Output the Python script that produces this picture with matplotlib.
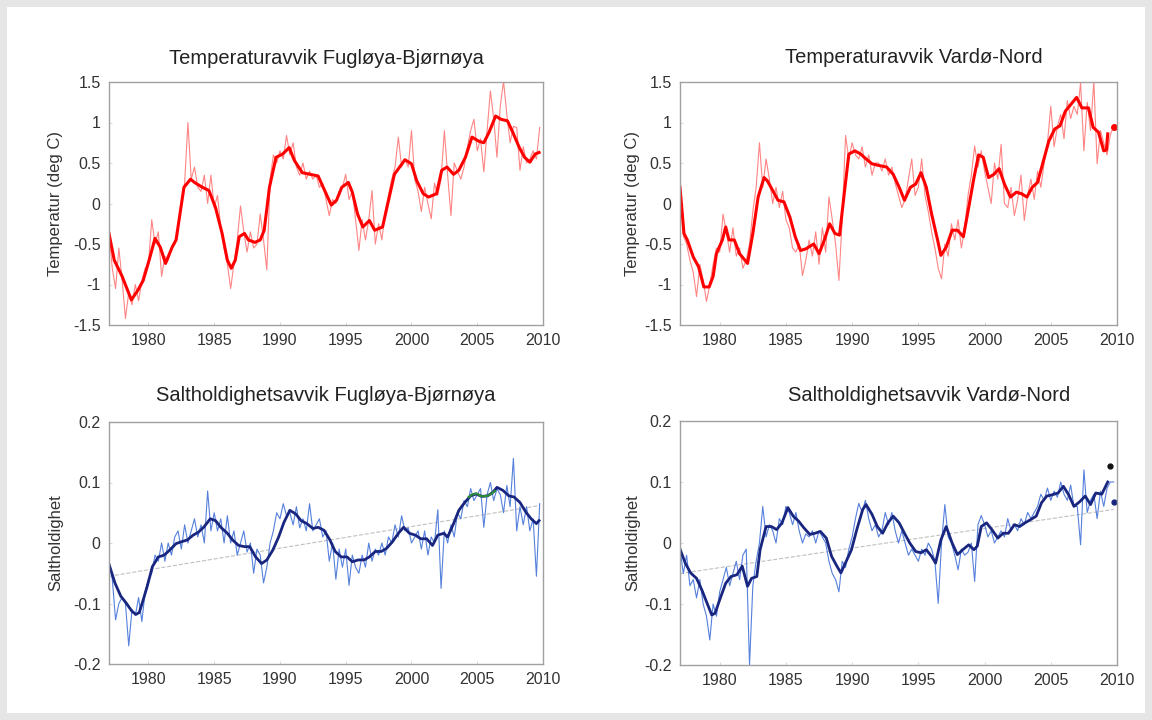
import numpy as np
import matplotlib
matplotlib.use('Agg')
import matplotlib.pyplot as plt
from matplotlib.patches import Rectangle

plt.rcParams['font.family'] = ['Liberation Sans', 'DejaVu Sans']

# ---------------- data ----------------
# monthly-ish raw series, 4 values per year from 1977.0 to 2009.75
raw_years = np.arange(1977, 2010, 0.25)

temp_fb_raw = [
    -0.35, -0.8, -1.05, -0.55,
    -0.95, -1.42, -1.1, -1.25,
    -1.0, -1.2, -0.95, -0.8,
    -0.75, -0.2, -0.5, -0.35,
    -0.9, -0.65, -0.7, -0.55,
    -0.5, -0.3, 0.0, 0.25,
    1.0, 0.3, 0.45, 0.2,
    0.15, 0.35, 0.0, 0.35,
    -0.05, 0.1, -0.3, -0.55,
    -0.75, -1.05, -0.75, -0.45,
    -0.03, -0.35, -0.6, -0.35,
    -0.55, -0.5, -0.13, -0.45,
    -0.82, 0.3, 0.6, 0.5,
    0.65, 0.55, 0.84, 0.6,
    0.75, 0.45, 0.35, 0.5,
    0.3, 0.4, 0.3, 0.35,
    0.2, 0.25, 0.05, -0.15,
    0.05, 0.0, 0.15, 0.2,
    0.36, 0.05, 0.15, -0.2,
    -0.58, -0.2, -0.45, -0.2,
    0.16, -0.5, -0.25, -0.45,
    -0.1, 0.1, 0.3, 0.45,
    0.82, 0.45, 0.55, 0.45,
    0.9, 0.3, 0.15, -0.1,
    0.2, 0.0, -0.19, 0.25,
    0.1, 0.3, 0.9, 0.35,
    -0.15, 0.5, 0.4, 0.3,
    0.45, 0.7, 0.9, 1.04,
    0.65, 0.8, 0.39, 0.9,
    1.39, 1.05, 0.57, 1.2,
    1.51, 1.1, 0.75, 0.95,
    0.94, 0.41, 0.7, 0.5,
    0.55, 0.65, 0.55, 0.94,
]

temp_vn_raw = [
    0.2, -0.4, -0.5, -0.7,
    -0.85, -1.15, -0.75, -0.95,
    -1.21, -1.0, -0.75, -0.55,
    -0.6, -0.13, -0.35, -0.6,
    -0.3, -0.65, -0.55, -0.8,
    -0.7, -0.5, -0.1, 0.2,
    0.75, 0.2, 0.55, 0.3,
    0.0, 0.2, -0.05, 0.15,
    -0.2, -0.3, -0.55, -0.6,
    -0.5, -0.89, -0.7, -0.45,
    -0.65, -0.35, -0.75, -0.3,
    -0.6, 0.08, -0.2, -0.5,
    -0.95, -0.2, 0.84, 0.55,
    0.75, 0.6, 0.55, 0.7,
    0.45, 0.6, 0.35, 0.5,
    0.5, 0.4, 0.55, 0.35,
    0.45, 0.25, 0.1, -0.05,
    0.05, 0.3, 0.55, 0.1,
    0.2, 0.55, 0.1, -0.1,
    -0.35, -0.55, -0.8, -0.93,
    -0.5, -0.65, -0.25, -0.45,
    -0.2, -0.55, -0.3, 0.1,
    0.35, 0.71, 0.45, 0.65,
    0.4, 0.2, 0.0, 0.5,
    0.3, 0.73, 0.0, -0.05,
    0.2, -0.15, 0.05, 0.35,
    -0.21, 0.1, 0.3, 0.05,
    0.4, 0.2, 0.5, 0.75,
    1.2, 0.7, 0.95, 1.1,
    0.8, 1.27, 1.05, 1.2,
    1.1, 1.49, 0.65, 1.25,
    0.9, 1.51, 0.49, 0.9,
    0.75, 0.6, 0.85, 0.95,
]

salt_fb_raw = [
    -0.03, -0.06, -0.127, -0.1,
    -0.09, -0.1, -0.17, -0.11,
    -0.12, -0.09, -0.13, -0.08,
    -0.06, -0.05, -0.02, -0.03,
    0.0, -0.03, 0.0, -0.02,
    0.01, 0.02, -0.01, 0.03,
    0.0, 0.02, 0.04, 0.01,
    0.03, 0.0, 0.086, 0.02,
    0.05, 0.02, 0.04, 0.0,
    0.045, 0.0, 0.02, -0.02,
    0.0, 0.02, -0.015, 0.0,
    -0.05, -0.01, -0.02, -0.066,
    -0.04, 0.0, 0.02, 0.05,
    0.04, 0.065, 0.045, 0.05,
    0.03, 0.06, 0.025, 0.04,
    0.02, 0.065, 0.02, 0.03,
    0.04, 0.01, 0.02, -0.03,
    0.0, -0.06, -0.01, -0.04,
    -0.01, -0.07, -0.02, -0.04,
    -0.05, -0.02, -0.04, 0.0,
    -0.03, -0.01, -0.02, 0.0,
    -0.02, 0.01, 0.0, 0.03,
    0.01, 0.045, 0.02, 0.025,
    0.0, 0.01, 0.02, -0.01,
    0.02, -0.02, 0.01, 0.0,
    0.055, -0.075, 0.02, 0.0,
    0.03, 0.01, 0.05, 0.04,
    0.07, 0.06, 0.09, 0.07,
    0.08, 0.09, 0.026, 0.08,
    0.1, 0.07, 0.09, 0.08,
    0.05, 0.095, 0.06, 0.14,
    0.02, 0.06, 0.03, 0.06,
    0.02, 0.04, -0.055, 0.065,
]

salt_vn_raw = [
    -0.01, -0.05, -0.02, -0.07,
    -0.06, -0.09, -0.06, -0.1,
    -0.12, -0.159, -0.1, -0.12,
    -0.08, -0.06, -0.04, -0.07,
    -0.05, -0.03, -0.06, -0.02,
    -0.01, -0.2, -0.07, -0.03,
    0.0, 0.06, 0.01, 0.03,
    0.02, 0.0, 0.04, 0.03,
    0.06, 0.05, 0.03, 0.05,
    0.02, 0.0, 0.015, 0.01,
    0.02, 0.0, 0.02, 0.01,
    0.0, -0.03, -0.05, -0.06,
    -0.08, -0.03, -0.04, -0.01,
    0.01, 0.04, 0.065, 0.05,
    0.07, 0.04, 0.02, 0.03,
    0.01, 0.02, 0.05, 0.03,
    0.05, 0.02, 0.0, 0.02,
    0.0, -0.02, -0.01, -0.02,
    -0.03, -0.01, -0.02, 0.0,
    -0.01, -0.03, -0.099, 0.0,
    0.063, 0.01, 0.0, -0.02,
    -0.044, -0.01, -0.02, -0.015,
    0.0, -0.063, 0.03, 0.045,
    0.03, 0.01, 0.02, 0.0,
    0.01, 0.02, 0.01, 0.04,
    0.02, 0.03, 0.02, 0.04,
    0.03, 0.05, 0.04, 0.05,
    0.06, 0.08, 0.07, 0.09,
    0.07, 0.085, 0.075, 0.1,
    0.08, 0.07, 0.095, 0.06,
    0.06, -0.003, 0.12, 0.05,
    0.07, 0.08, 0.04, 0.085,
    0.06, 0.09, 0.1, 0.1,
]

# smoothed series (year, value)
temp_fb_sm_x = [1977.0, 1977.4, 1978.0, 1978.7, 1979.2, 1979.6, 1980.05, 1980.5, 1980.9, 1981.3,
                1981.8, 1982.1, 1982.7, 1983.2, 1983.5, 1984.1, 1984.6, 1985.1, 1985.6, 1986.0,
                1986.3, 1986.6, 1986.9, 1987.3, 1987.6, 1988.1, 1988.5, 1988.8, 1989.2, 1989.7,
                1990.2, 1990.7, 1991.1, 1991.7, 1992.3, 1992.9, 1993.4, 1993.9, 1994.3, 1994.7,
                1995.2, 1995.5, 1995.9, 1996.3, 1996.8, 1997.2, 1997.8, 1998.2, 1998.7, 1999.1,
                1999.5, 2000.0, 2000.4, 2000.9, 2001.3, 2001.9, 2002.3, 2002.7, 2003.2, 2003.6,
                2004.1, 2004.6, 2005.1, 2005.5, 2005.9, 2006.4, 2006.8, 2007.3, 2007.7, 2008.2,
                2008.6, 2009.0, 2009.4, 2009.7]
temp_fb_sm = [-0.37, -0.70, -0.90, -1.19, -1.07, -0.95, -0.70, -0.43, -0.54, -0.74,
              -0.54, -0.45, 0.20, 0.30, 0.26, 0.20, 0.16, -0.05, -0.37, -0.70,
              -0.80, -0.70, -0.41, -0.37, -0.45, -0.48, -0.45, -0.33, 0.20, 0.57,
              0.61, 0.69, 0.53, 0.38, 0.36, 0.34, 0.16, -0.02, 0.04, 0.20,
              0.26, 0.14, -0.13, -0.29, -0.21, -0.33, -0.29, 0.00, 0.36, 0.45,
              0.54, 0.49, 0.28, 0.12, 0.08, 0.12, 0.41, 0.45, 0.36, 0.41,
              0.57, 0.82, 0.77, 0.75, 0.88, 1.08, 1.04, 1.02, 0.88, 0.69,
              0.57, 0.51, 0.61, 0.63]

temp_vn_sm_x = [1977.0, 1977.3, 1977.55, 1978.0, 1978.4, 1978.8, 1979.2, 1979.5, 1979.75, 1980.2,
                1980.45, 1980.7, 1981.1, 1981.5, 1982.1, 1982.5, 1982.9, 1983.35, 1983.6, 1984.0,
                1984.4, 1984.85, 1985.3, 1985.7, 1986.1, 1986.5, 1987.1, 1987.5, 1987.9, 1988.3,
                1988.7, 1989.05, 1989.4, 1989.75, 1990.2, 1990.65, 1991.05, 1991.5, 1992.0, 1992.6,
                1993.1, 1993.55, 1993.95, 1994.4, 1994.8, 1995.2, 1995.6, 1996.0, 1996.45, 1996.7,
                1997.1, 1997.55, 1997.95, 1998.4, 1998.8, 1999.2, 1999.55, 1999.9, 2000.3, 2000.7,
                2001.1, 2001.5, 2001.95, 2002.4, 2002.8, 2003.2, 2003.6, 2004.0, 2004.45, 2004.85,
                2005.3, 2005.7, 2006.1, 2006.55, 2006.95, 2007.35, 2007.85, 2008.2, 2008.6, 2009.0,
                2009.2, 2009.3]
temp_vn_sm = [0.20, -0.37, -0.45, -0.66, -0.78, -1.03, -1.03, -0.90, -0.62, -0.45,
              -0.29, -0.45, -0.45, -0.62, -0.74, -0.37, 0.08, 0.32, 0.28, 0.16,
              0.04, 0.02, -0.17, -0.41, -0.58, -0.56, -0.50, -0.62, -0.45, -0.25,
              -0.37, -0.39, 0.12, 0.61, 0.65, 0.61, 0.55, 0.49, 0.47, 0.45,
              0.36, 0.20, 0.04, 0.20, 0.24, 0.38, 0.20, -0.13, -0.45, -0.64,
              -0.54, -0.33, -0.33, -0.41, -0.05, 0.32, 0.60, 0.57, 0.32, 0.36,
              0.43, 0.24, 0.08, 0.14, 0.12, 0.08, 0.20, 0.26, 0.53, 0.77,
              0.92, 0.96, 1.14, 1.23, 1.31, 1.18, 1.18, 0.94, 0.88, 0.65,
              0.66, 0.86]
temp_vn_last = (2009.8, 0.95)

salt_fb_sm_x = [1977.0, 1977.45, 1977.9, 1978.3, 1978.75, 1979.05, 1979.3, 1979.6, 1979.9, 1980.3,
                1980.75, 1981.2, 1981.6, 1982.1, 1982.5, 1982.95, 1983.4, 1983.8, 1984.2, 1984.7,
                1985.1, 1985.5, 1986.0, 1986.4, 1986.85, 1987.3, 1987.7, 1988.15, 1988.6, 1989.0,
                1989.45, 1989.9, 1990.3, 1990.75, 1991.2, 1991.6, 1992.05, 1992.5, 1992.9, 1993.35,
                1993.8, 1994.2, 1994.65, 1995.1, 1995.5, 1995.95, 1996.4, 1996.8, 1997.25, 1997.7,
                1998.1, 1998.55, 1999.0, 1999.4, 1999.85, 2000.3, 2000.7, 2001.15, 2001.6, 2002.0,
                2002.45, 2002.75, 2003.2, 2003.6, 2004.05, 2004.5, 2004.9, 2005.35, 2005.8, 2006.2,
                2006.5, 2006.95, 2007.4, 2007.8, 2008.25, 2008.7, 2009.1, 2009.5, 2009.7]
salt_fb_sm = [-0.035, -0.066, -0.088, -0.099, -0.113, -0.118, -0.115, -0.094, -0.072, -0.039,
              -0.023, -0.020, -0.012, -0.001, 0.002, 0.005, 0.013, 0.018, 0.026, 0.040,
              0.037, 0.026, 0.016, 0.005, -0.004, -0.006, -0.006, -0.023, -0.034, -0.028,
              -0.012, 0.010, 0.034, 0.054, 0.048, 0.037, 0.032, 0.024, 0.026, 0.021,
              0.005, -0.014, -0.023, -0.023, -0.031, -0.028, -0.028, -0.023, -0.014, -0.014,
              -0.009, 0.002, 0.016, 0.026, 0.016, 0.013, 0.007, 0.007, -0.004, 0.013,
              0.016, 0.010, 0.032, 0.054, 0.067, 0.078, 0.081, 0.077, 0.078, 0.084,
              0.092, 0.087, 0.078, 0.076, 0.067, 0.051, 0.040, 0.032, 0.037]
# green overlay segment
salt_fb_green_x = [2004.35, 2004.6, 2004.9, 2005.35, 2005.8, 2006.1, 2006.35]
salt_fb_green = [0.076, 0.080, 0.082, 0.077, 0.078, 0.082, 0.086]
salt_fb_trend_x = [1977.0, 2009.75]
salt_fb_trend = [-0.055, 0.062]

salt_vn_sm_x = [1977.0, 1977.4, 1977.8, 1978.25, 1978.65, 1979.05, 1979.4, 1979.65, 1980.0, 1980.45,
                1980.85, 1981.3, 1981.7, 1982.1, 1982.4, 1982.8, 1983.05, 1983.5, 1983.9, 1984.3,
                1984.7, 1985.15, 1985.55, 1985.95, 1986.35, 1986.8, 1987.2, 1987.6, 1988.05, 1988.45,
                1988.85, 1989.15, 1989.55, 1989.95, 1990.35, 1990.8, 1991.05, 1991.5, 1991.9, 1992.3,
                1992.7, 1993.1, 1993.55, 1993.95, 1994.35, 1994.8, 1995.2, 1995.6, 1996.0, 1996.3,
                1996.7, 1997.1, 1997.55, 1997.95, 1998.35, 1998.8, 1999.2, 1999.45, 1999.75, 2000.15,
                2000.55, 2001.0, 2001.4, 2001.8, 2002.25, 2002.65, 2003.05, 2003.45, 2003.9, 2004.3,
                2004.7, 2005.1, 2005.55, 2005.95, 2006.35, 2006.75, 2007.2, 2007.6, 2008.0, 2008.4,
                2008.85, 2009.3]
salt_vn_sm = [-0.010, -0.033, -0.049, -0.058, -0.077, -0.099, -0.118, -0.115, -0.093, -0.066,
              -0.055, -0.052, -0.038, -0.071, -0.058, -0.055, -0.011, 0.027, 0.027, 0.022,
              0.033, 0.058, 0.044, 0.036, 0.025, 0.014, 0.016, 0.019, 0.008, -0.022,
              -0.038, -0.049, -0.030, -0.011, 0.022, 0.055, 0.063, 0.047, 0.027, 0.016,
              0.033, 0.044, 0.033, 0.016, 0.000, -0.014, -0.016, -0.011, -0.022, -0.033,
              0.005, 0.027, 0.000, -0.019, -0.011, -0.003, -0.011, -0.005, 0.027, 0.033,
              0.022, 0.008, 0.016, 0.016, 0.030, 0.027, 0.033, 0.038, 0.044, 0.066,
              0.077, 0.079, 0.082, 0.093, 0.079, 0.060, 0.068, 0.077, 0.063, 0.082,
              0.080, 0.100]
salt_vn_trend_x = [1977.0, 2009.75]
salt_vn_trend = [-0.05, 0.055]
salt_vn_black = (2009.45, 0.126)
salt_vn_blue = (2009.8, 0.067)

x_ticks = [1980, 1985, 1990, 1995, 2000, 2005, 2010]
temp_ticks = [-1.5, -1, -0.5, 0, 0.5, 1, 1.5]
salt_ticks = [-0.2, -0.1, 0, 0.1, 0.2]

# ---------------- figure ----------------
W, H = 1152, 720
fig = plt.figure(figsize=(W / 100, H / 100), dpi=100, facecolor='#e6e6e6')
# white sheet inside the grey border
fig.patches.append(Rectangle((7 / W, 7 / H), (1145 - 7) / W, (713 - 7) / H,
                             transform=fig.transFigure, facecolor='white',
                             edgecolor='none', zorder=-10))


def make_axes(px_left, px_right, px_top, px_bottom):
    return fig.add_axes([px_left / W, 1 - px_bottom / H,
                         (px_right - px_left) / W, (px_bottom - px_top) / H])


def style_axes(ax, yticks, ylim, ylabel, title, title_x, title_y, label_x):
    ax.set_xlim(1977, 2010)
    ax.set_ylim(*ylim)
    ax.set_xticks(x_ticks)
    ax.set_xticklabels([str(t) for t in x_ticks])
    ax.set_yticks(yticks)
    ax.set_yticklabels(['%g' % t for t in yticks])
    ax.patch.set_alpha(0)
    for sp in ax.spines.values():
        sp.set_color('#a0a0a0')
        sp.set_linewidth(1.0)
    ax.tick_params(direction='in', length=2.5, width=0.5, color='#c8c8c8',
                   labelsize=11.5, labelcolor='#333333', pad=6,
                   top=False, right=False)
    ax.set_ylabel(ylabel, fontsize=12, color='#333333')
    ax.yaxis.set_label_coords(label_x, 0.5)
    ax.text(title_x, title_y, title, transform=ax.transAxes, ha='center',
            va='center', fontsize=14.5, color='#222222')


# Temperature Fugløya-Bjørnøya
ax1 = make_axes(109, 543, 82, 325)
ax1.plot(raw_years, temp_fb_raw, color='#ff8585', lw=0.8)
ax1.plot(temp_fb_sm_x, temp_fb_sm, color='#ff0000', lw=2.2)
style_axes(ax1, temp_ticks, (-1.5, 1.5), 'Temperatur (deg C)',
           'Temperaturavvik Fugløya-Bjørnøya', 0.5, 1.095, -0.105)

# Temperature Vardø-Nord
ax2 = make_axes(680, 1117, 82, 325)
ax2.plot(raw_years, temp_vn_raw, color='#ff8585', lw=0.8)
ax2.plot(temp_vn_sm_x, temp_vn_sm, color='#ff0000', lw=2.2)
ax2.plot(*temp_vn_last, marker='o', ms=4, color='#ff0000')
style_axes(ax2, temp_ticks, (-1.5, 1.5), 'Temperatur (deg C)',
           'Temperaturavvik Vardø-Nord', 0.535, 1.1, -0.092)

# Salinity Fugløya-Bjørnøya
ax3 = make_axes(109, 543, 422, 664)
ax3.plot(salt_fb_trend_x, salt_fb_trend, color='#c0c0c0', lw=0.8, ls='--')
ax3.plot(raw_years, salt_fb_raw, color='#5580dc', lw=0.8)
ax3.plot(salt_fb_sm_x, salt_fb_sm, color='#18267f', lw=2.0)
ax3.plot(salt_fb_green_x, salt_fb_green, color='#2e8b3a', lw=1.6)
style_axes(ax3, salt_ticks, (-0.2, 0.2), 'Saltholdighet',
           'Saltholdighetsavvik Fugløya-Bjørnøya', 0.5, 1.11, -0.105)

# Salinity Vardø-Nord
ax4 = make_axes(680, 1117, 421, 665)
ax4.plot(salt_vn_trend_x, salt_vn_trend, color='#c0c0c0', lw=0.8, ls='--')
ax4.plot(raw_years, salt_vn_raw, color='#5580dc', lw=0.8)
ax4.plot(salt_vn_sm_x, salt_vn_sm, color='#18267f', lw=2.0)
ax4.plot(*salt_vn_black, marker='o', ms=3.5, color='#111111')
ax4.plot(*salt_vn_blue, marker='o', ms=3.5, color='#18267f')
style_axes(ax4, salt_ticks, (-0.2, 0.2), 'Saltholdighet',
           'Saltholdighetsavvik Vardø-Nord', 0.57, 1.105, -0.092)

fig.savefig('out.png', dpi=100, facecolor=fig.get_facecolor())
